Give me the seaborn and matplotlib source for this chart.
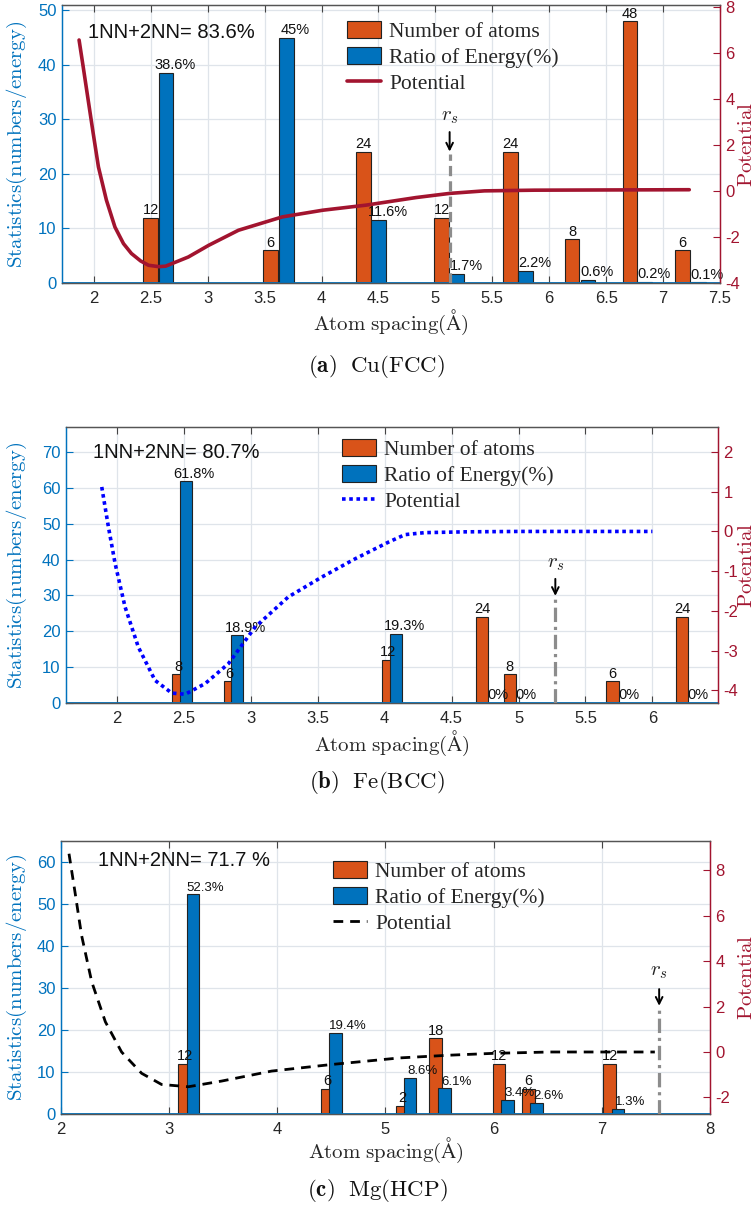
import matplotlib
matplotlib.use('Agg')
import matplotlib.pyplot as plt
import seaborn as sns
from matplotlib.ticker import FuncFormatter

sns.set_theme(style='white')
plt.rcParams['font.family'] = ['Liberation Sans', 'DejaVu Sans']
plt.rcParams['mathtext.fontset'] = 'cm'
plt.rcParams['axes.unicode_minus'] = False

# ---- data ----
# (a) Cu(FCC)
cu_atom_x = [2.498, 3.553, 4.367, 5.055, 5.658, 6.200, 6.710, 7.170]
cu_atoms = [12, 6, 24, 12, 24, 8, 48, 6]
cu_energy_x = [2.633, 3.692, 4.502, 5.190, 5.793, 6.340, 6.840, 7.310]
cu_energy = [38.6, 45, 11.6, 1.7, 2.2, 0.6, 0.2, 0.1]
cu_pot_x = [1.87, 1.906, 1.95, 1.994, 2.04, 2.11, 2.185, 2.26, 2.33, 2.41, 2.48, 2.57,
            2.63, 2.83, 3.01, 3.27, 3.655, 4.01, 4.39, 4.83, 5.125, 5.43, 5.87, 6.5, 7.23]
cu_pot_y = [6.55, 5.39, 3.94, 2.5, 1.04, -0.40, -1.57, -2.29, -2.72, -3.04, -3.23, -3.29,
            -3.27, -2.87, -2.36, -1.71, -1.13, -0.84, -0.62, -0.29, -0.11, 0.0, 0.03, 0.04, 0.05]

# (b) Fe(BCC)
fe_atom_x = [2.458, 2.842, 4.027, 4.727, 4.935, 5.702, 6.221]
fe_atoms = [8, 6, 12, 24, 8, 6, 24]
fe_energy_x = [2.517, 2.900, 4.086, 4.787, 4.995, 5.762, 6.281]
fe_energy = [61.8, 18.9, 19.3, 0, 0, 0, 0]
fe_pot_x = [1.887, 1.937, 1.987, 2.061, 2.16, 2.285, 2.41, 2.51, 2.66, 2.833, 3.032, 3.28,
            3.53, 3.779, 4.028, 4.152, 4.3, 4.6, 5.0, 6.0]
fe_pot_y = [1.12, 0.11, -0.81, -1.90, -2.91, -3.75, -4.07, -4.10, -3.83, -3.33, -2.41, -1.65,
            -1.15, -0.69, -0.27, -0.08, -0.03, -0.01, 0.0, 0.0]

# (c) Mg(HCP)
mg_atom_x = [3.142, 4.458, 5.151, 5.464, 6.047, 6.322, 7.071]
mg_atoms = [12, 6, 2, 18, 12, 6, 12]
mg_energy_x = [3.220, 4.538, 5.229, 5.547, 6.129, 6.398, 7.151]
mg_energy = [52.3, 19.4, 8.6, 6.1, 3.4, 2.6, 1.3]
mg_pot_x = [2.074, 2.129, 2.19, 2.284, 2.41, 2.56, 2.746, 2.93, 3.177, 3.485, 3.947, 4.502,
            5.133, 5.595, 5.995, 6.52, 7.49]
mg_pot_y = [8.73, 7.05, 5.14, 3.09, 1.33, 0.0, -0.94, -1.43, -1.53, -1.28, -0.84, -0.55,
            -0.26, -0.14, -0.06, 0.0, 0.0]

nn_texts = ['1NN+2NN= 83.6%', '1NN+2NN= 80.7%', '1NN+2NN= 71.7 %']
captions = [r'$\mathbf{(a)}\ \ \mathrm{Cu(FCC)}$', r'$\mathbf{(b)}\ \ \mathrm{Fe(BCC)}$',
            r'$\mathbf{(c)}\ \ \mathrm{Mg(HCP)}$']
rs_x = [5.125, 5.275, 7.53]

BLUE = '#0072BD'
ORANGE = '#D95319'
RED = '#A2142F'
GRID = '#dfe4ea'
W, H = 754, 1205


def fmt_g(v, pos):
    return '%g' % v


def draw_panel(fig, cfg):
    left, top, right, bottom = cfg['box']
    ax1 = fig.add_axes([left / W, 1 - bottom / H, (right - left) / W, (bottom - top) / H])
    ax2 = ax1.twinx()

    # grid
    for xt in cfg['xticks']:
        ax1.axvline(xt, color=GRID, lw=0.9, zorder=0)
    for yt in cfg['yticks1']:
        ax1.axhline(yt, color=GRID, lw=0.9, zorder=0)

    w = cfg['width']
    b1 = ax1.bar(cfg['atom_x'], cfg['atoms'], width=w, color=ORANGE, edgecolor='#222222',
                 linewidth=0.8, zorder=2, label='Number of atoms')
    b2 = ax1.bar(cfg['energy_x'], cfg['energy'], width=w, color=BLUE, edgecolor='#222222',
                 linewidth=0.8, zorder=3, label='Ratio of Energy(%)')
    ax1.axhline(0, color=BLUE, lw=1.3, zorder=4)

    for x, v in zip(cfg['atom_x'], cfg['atoms']):
        ax1.annotate(f'{v}', (x, v), xytext=(0, 0.5), textcoords='offset points',
                     ha='center', va='bottom', fontsize=10.5, color='#111111', zorder=5)
    for x, v in zip(cfg['energy_x'], cfg['energy']):
        ax1.annotate(f'{v:g}%', (x + cfg['lab_dx'], v), xytext=(0, 0.5), textcoords='offset points',
                     ha='center', va='bottom', fontsize=cfg['lab_fs'], color='#111111', zorder=5)

    sns.lineplot(x=cfg['pot_x'], y=cfg['pot_y'], ax=ax2, color=cfg['pot_color'],
                 lw=cfg['pot_lw'], label='Potential', legend=False, **cfg['pot_kw'])
    pot_line = ax2.lines[-1]

    # r_s marker
    rs = cfg['rs']
    ax2.plot([rs, rs], [0, cfg['rs_top']], color='#8c8c8c', lw=2.3, transform=ax1.transData,
             zorder=6, **cfg['rs_kw'])
    ax2.annotate('', xy=(rs, cfg['rs_top']), xycoords=ax1.transData,
                 xytext=(rs, cfg['rs_top'] + cfg['arrow_len']), textcoords=ax1.transData,
                 arrowprops=dict(arrowstyle='->', color='black', lw=1.4, mutation_scale=12))
    ax2.text(rs, cfg['rs_text'], r'$r_s$', transform=ax1.transData, ha='center', va='center',
             fontsize=15, color='#222222')

    ax1.set_xlim(cfg['xlim'])
    ax1.set_ylim(cfg['ylim1'])
    ax2.set_ylim(cfg['ylim2'])
    ax1.set_xticks(cfg['xticks'])
    ax1.set_yticks(cfg['yticks1'])
    ax2.set_yticks(cfg['yticks2'])
    ax1.xaxis.set_major_formatter(FuncFormatter(fmt_g))
    ax2.yaxis.set_major_formatter(FuncFormatter(fmt_g))

    ax1.tick_params(axis='x', direction='in', length=5, width=0.8, top=True, bottom=True,
                    labelsize=12, labelcolor='#262626', color='#444444', pad=6)
    ax1.tick_params(axis='y', direction='in', length=5, width=0.8, labelsize=12,
                    labelcolor=BLUE, color=BLUE, pad=4)
    ax2.tick_params(axis='y', direction='in', length=5, width=0.8, labelsize=12,
                    labelcolor=RED, color=RED, pad=4)

    for a in (ax1, ax2):
        a.spines['left'].set_color(BLUE)
        a.spines['right'].set_color(RED)
        a.spines['top'].set_color('#555555')
        a.spines['bottom'].set_color('#555555')
        for s in a.spines.values():
            s.set_linewidth(0.9)

    # text annotations
    nx, ny = cfg['nn_pos']
    fig.text(nx / W, 1 - ny / H, cfg['nn_text'], fontsize=14.5, ha='left', va='center',
             color='#111111')

    lx, ly = cfg['legend_pos']
    ax2.legend(handles=[b1, b2, pot_line], loc='upper left',
               bbox_to_anchor=(lx / W, 1 - ly / H), bbox_transform=fig.transFigure,
               frameon=False, borderpad=0, borderaxespad=0, handlelength=1.6,
               handleheight=0.85, handletextpad=0.35, labelspacing=0.22,
               prop={'family': 'Liberation Serif', 'size': 15.5})

    cx = (left + right) / 2
    fig.text(cx / W, 1 - cfg['xlabel_y'] / H, r'$\mathrm{Atom\ spacing(\AA)}$', fontsize=15,
             ha='center', va='center', color='#262626')
    cy = (top + bottom) / 2
    fig.text(17 / W, 1 - cy / H, r'$\mathrm{Statistics(numbers/energy)}$', fontsize=15,
             rotation=90, ha='center', va='center', color=BLUE)
    fig.text(737 / W, 1 - cy / H, r'$\mathrm{Potential}$', fontsize=15,
             rotation=90, ha='left', va='center', color=RED)
    fig.text(377 / W, 1 - cfg['caption_y'] / H, cfg['caption'], fontsize=16.5,
             ha='center', va='center', color='#111111')


panels = [
    dict(box=(62, 5, 720, 283), xlim=(1.72, 7.5),
         xticks=[2, 2.5, 3, 3.5, 4, 4.5, 5, 5.5, 6, 6.5, 7, 7.5],
         ylim1=(0, 51), yticks1=[0, 10, 20, 30, 40, 50],
         ylim2=(-4, 8.07), yticks2=[-4, -2, 0, 2, 4, 6, 8],
         atom_x=cu_atom_x, atoms=cu_atoms, energy_x=cu_energy_x, energy=cu_energy,
         width=0.13, lab_dx=0.08, lab_fs=10.5,
         pot_x=cu_pot_x, pot_y=cu_pot_y, pot_color=RED, pot_lw=2.6, pot_kw=dict(linestyle='-'),
         rs=rs_x[0], rs_top=23.6, arrow_len=4.6, rs_text=30.6, rs_kw=dict(dashes=(3.2, 1.6)),
         nn_text=nn_texts[0], nn_pos=(88, 33), legend_pos=(347, 21),
         xlabel_y=322, caption=captions[0], caption_y=367),
    dict(box=(66, 427, 718, 703), xlim=(1.62, 6.49),
         xticks=[2, 2.5, 3, 3.5, 4, 4.5, 5, 5.5, 6],
         ylim1=(0, 77), yticks1=[0, 10, 20, 30, 40, 50, 60, 70],
         ylim2=(-4.32, 2.63), yticks2=[-4, -3, -2, -1, 0, 1, 2],
         atom_x=fe_atom_x, atoms=fe_atoms, energy_x=fe_energy_x, energy=fe_energy,
         width=0.09, lab_dx=0.06, lab_fs=10.5,
         pot_x=fe_pot_x, pot_y=fe_pot_y, pot_color='#0000FF', pot_lw=2.6,
         pot_kw=dict(dashes=(1, 1)),
         rs=rs_x[1], rs_top=29.1, arrow_len=6.3, rs_text=39.0,
         rs_kw=dict(dashes=(4.5, 1.5, 1, 1.5)),
         nn_text=nn_texts[1], nn_pos=(93, 452), legend_pos=(342, 439),
         xlabel_y=743, caption=captions[1], caption_y=783),
    dict(box=(61, 841, 710, 1114), xlim=(2, 8),
         xticks=[2, 3, 4, 5, 6, 7, 8],
         ylim1=(0, 65), yticks1=[0, 10, 20, 30, 40, 50, 60],
         ylim2=(-2.73, 9.29), yticks2=[-2, 0, 2, 4, 6, 8],
         atom_x=mg_atom_x, atoms=mg_atoms, energy_x=mg_energy_x, energy=mg_energy,
         width=0.115, lab_dx=0.11, lab_fs=9.5,
         pot_x=mg_pot_x, pot_y=mg_pot_y, pot_color='black', pot_lw=2.0,
         pot_kw=dict(dashes=(3.5, 2.5)),
         rs=rs_x[2], rs_top=25.1, arrow_len=5.3, rs_text=34.0,
         rs_kw=dict(dashes=(4.5, 1.5, 1, 1.5)),
         nn_text=nn_texts[2], nn_pos=(98, 861), legend_pos=(333, 861),
         xlabel_y=1150, caption=captions[2], caption_y=1190),
]

fig = plt.figure(figsize=(W / 100, H / 100), dpi=100)
fig.patch.set_facecolor('white')
for cfg in panels:
    draw_panel(fig, cfg)

fig.savefig('out.png', dpi=100, facecolor='white')
